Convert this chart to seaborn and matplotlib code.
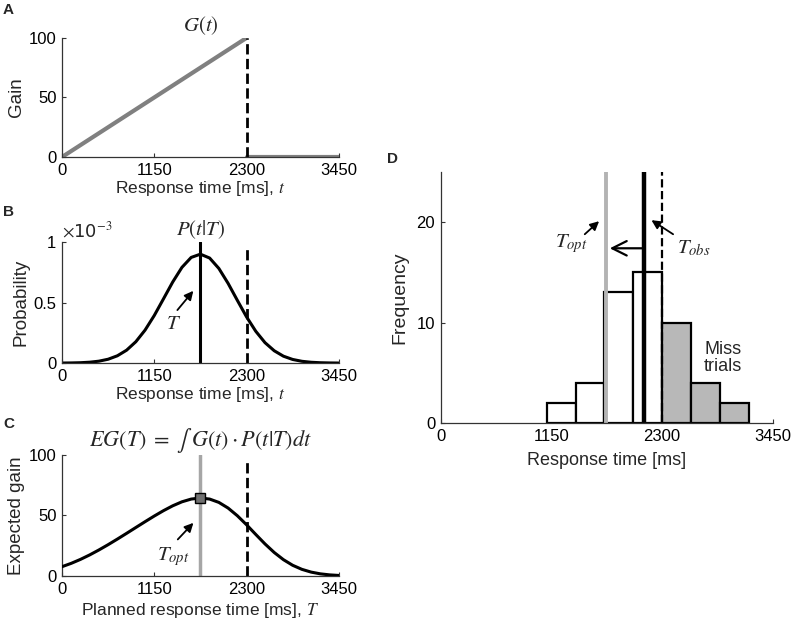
import numpy as np
import pandas as pd
import matplotlib
matplotlib.use("Agg")
import matplotlib.pyplot as plt
import seaborn as sns

# panel A: gain function
gain_t = [0, 2300, 2300, 3450]
gain_g = [0, 100, 0, 0]

t_grid = [0, 115, 230, 345, 460, 575, 690, 805, 920, 1035, 1150, 1265, 1380,
          1495, 1610, 1725, 1840, 1955, 2070, 2185, 2300, 2415, 2530, 2645,
          2760, 2875, 2990, 3105, 3220, 3335, 3450]
prob_e3 = [0.0005, 0.0013, 0.0031, 0.0073, 0.0158, 0.0319, 0.0603, 0.1066,
           0.1763, 0.2723, 0.3932, 0.531, 0.670, 0.791, 0.873, 0.900, 0.868,
           0.782, 0.659, 0.519, 0.382, 0.263, 0.169, 0.102, 0.057, 0.030,
           0.0148, 0.0068, 0.0029, 0.0012, 0.0004]
exp_gain = [7.68, 10.44, 13.70, 17.40, 21.49, 25.87, 30.48, 35.22, 40.04,
            44.84, 49.53, 53.97, 57.98, 61.28, 63.54, 64.41, 63.55, 60.79,
            56.13, 49.80, 42.32, 34.32, 26.49, 19.41, 13.47, 8.83, 5.48,
            3.20, 1.76, 0.91, 0.44]

T_plan = 1720
T_opt = 1720
T_obs = 2110
deadline = 2300
eg_max = 64.4

# panel D: histogram of response times
bin_edges = [1100, 1400, 1700, 2000, 2300, 2600, 2900, 3200]
counts = [2, 4, 13, 15, 10, 4, 2]

xticks = [0, 1150, 2300, 3450]

sns.set_theme(style="ticks")
plt.rcParams['font.family'] = ['Liberation Sans', 'DejaVu Sans']
plt.rcParams['mathtext.fontset'] = 'stix'
plt.rcParams['xtick.direction'] = 'in'
plt.rcParams['ytick.direction'] = 'in'
plt.rcParams['axes.edgecolor'] = '#333333'
plt.rcParams['axes.linewidth'] = 0.9

fig = plt.figure(figsize=(8, 6.37), dpi=100)
axA = fig.add_axes([0.0775, 0.7535, 0.346, 0.187])
axB = fig.add_axes([0.0775, 0.430, 0.346, 0.190])
axC = fig.add_axes([0.0775, 0.0958, 0.346, 0.190])
axD = fig.add_axes([0.551, 0.336, 0.415, 0.394])

tick_fs = 12
lab_fs = 12.5
math_fs = 15

def style(ax):
    sns.despine(ax=ax)
    ax.tick_params(labelsize=tick_fs, length=3, width=0.8, colors='#333333',
                   labelcolor='black', pad=4)

def pointer(ax, head, tail):
    ax.annotate('', xy=head, xytext=tail,
                arrowprops=dict(arrowstyle='-|>', color='black', lw=1.3,
                                mutation_scale=13, shrinkA=0, shrinkB=0))

# ---- A
sns.lineplot(x=gain_t[:2], y=gain_g[:2], ax=axA, color='#808080', lw=3)
sns.lineplot(x=gain_t[2:], y=gain_g[2:], ax=axA, color='#808080', lw=3)
axA.plot([deadline, deadline], [0, 100], color='black', ls='--', lw=2)
axA.set_xlim(0, 3450)
axA.set_ylim(0, 100)
axA.set_xticks(xticks)
axA.set_yticks([0, 50, 100])
axA.set_xlabel('Response time [ms], $t$', fontsize=lab_fs, labelpad=1)
axA.set_ylabel('Gain', fontsize=lab_fs + 1, labelpad=3)
axA.set_title('$G(t)$', fontsize=math_fs, pad=5)
style(axA)

# ---- B (values in units of 1e-3)
sns.lineplot(x=t_grid, y=prob_e3, ax=axB, color='black', lw=2.2)
axB.plot([T_plan, T_plan], [0, 1], color='black', lw=2.2)
axB.plot([deadline, deadline], [0, 0.96], color='black', ls='--', lw=2)
axB.set_xlim(0, 3450)
axB.set_ylim(0, 1)
axB.set_xticks(xticks)
axB.set_yticks([0, 0.5, 1])
axB.yaxis.set_major_formatter(matplotlib.ticker.FormatStrFormatter('%g'))
axB.text(0.0, 1.01, r'$\times$10$^{-3}$', transform=axB.transAxes,
         fontsize=tick_fs + 1, ha='left', va='bottom',
         family=['DejaVu Sans'])
axB.set_xlabel('Response time [ms], $t$', fontsize=lab_fs, labelpad=1)
axB.set_ylabel('Probability', fontsize=lab_fs + 1, labelpad=3)
axB.set_title('$P(t|T)$', fontsize=math_fs, pad=5)
pointer(axB, (1637, 0.597), (1438, 0.438))
axB.text(1386, 0.33, '$T$', fontsize=math_fs, ha='center', va='center')
style(axB)

# ---- C
sns.lineplot(x=t_grid, y=exp_gain, ax=axC, color='black', lw=2.2, zorder=3)
axC.plot([T_opt, T_opt], [0, 100], color='#a6a6a6', lw=2.5, zorder=2)
axC.plot([deadline, deadline], [0, 96], color='black', ls='--', lw=2)
axC.plot([T_opt], [eg_max], marker='s', ms=7, mfc='#707070', mec='black',
         mew=1, zorder=4)
axC.set_xlim(0, 3450)
axC.set_ylim(0, 100)
axC.set_xticks(xticks)
axC.set_yticks([0, 50, 100])
axC.set_xlabel('Planned response time [ms], $T$', fontsize=lab_fs, labelpad=3)
axC.set_ylabel('Expected gain', fontsize=lab_fs + 1, labelpad=3)
axC.set_title(r'$EG(T)\;=\;\int\;G(t)\cdot P(t|T)dt$', fontsize=16,
              pad=3)
pointer(axC, (1638, 43.9), (1443, 30.2))
axC.text(1390, 16, '$T_{opt}$', fontsize=math_fs, ha='center', va='center')
style(axC)

# ---- D
centers = [(a + b) / 2 for a, b in zip(bin_edges[:-1], bin_edges[1:])]
hist_df = pd.DataFrame({'rt': centers, 'n': counts,
                        'miss': [c > deadline for c in centers]})
sns.histplot(data=hist_df[~hist_df.miss], x='rt', weights='n',
             bins=bin_edges[:5], ax=axD, color='white', edgecolor='black',
             linewidth=1.6, alpha=1)
sns.histplot(data=hist_df[hist_df.miss], x='rt', weights='n',
             bins=bin_edges[4:], ax=axD, color='#b8b8b8', edgecolor='black',
             linewidth=1.6, alpha=1)
axD.plot([T_opt, T_opt], [0, 25], color='#b3b3b3', lw=2.8)
axD.plot([T_obs, T_obs], [0, 25], color='black', lw=3.2)
axD.plot([deadline, deadline], [0, 25], color='black', ls='--', lw=1.6)
axD.annotate('', xy=(1756, 17.4), xytext=(T_obs, 17.4),
             arrowprops=dict(arrowstyle='->', color='black', lw=1.6,
                             mutation_scale=26, shrinkA=0, shrinkB=0))
pointer(axD, (1645, 20.1), (1496, 18.8))
pointer(axD, (2189, 20.2), (2414, 18.8))
axD.text(1358, 17.9, '$T_{opt}$', fontsize=math_fs, ha='center', va='center')
axD.text(2630, 17.4, '$T_{obs}$', fontsize=math_fs, ha='center', va='center')
axD.text(2930, 6.5, 'Miss\ntrials', fontsize=13, ha='center',
         va='center', linespacing=1.0)
axD.set_xlim(0, 3450)
axD.set_ylim(0, 25)
axD.set_xticks(xticks)
axD.set_yticks([0, 10, 20])
axD.set_xlabel('Response time [ms]', fontsize=lab_fs + 0.5, labelpad=6)
axD.set_ylabel('Frequency', fontsize=lab_fs + 1.5, labelpad=6)
style(axD)

# panel letters
for lbl, (px, py) in zip('ABCD', [(3, 3), (3, 205), (3, 417), (387, 152)]):
    fig.text(px / 800, 1 - py / 637, lbl, fontsize=11, fontweight='bold',
             va='top', ha='left')

fig.savefig('out.png', dpi=100)
